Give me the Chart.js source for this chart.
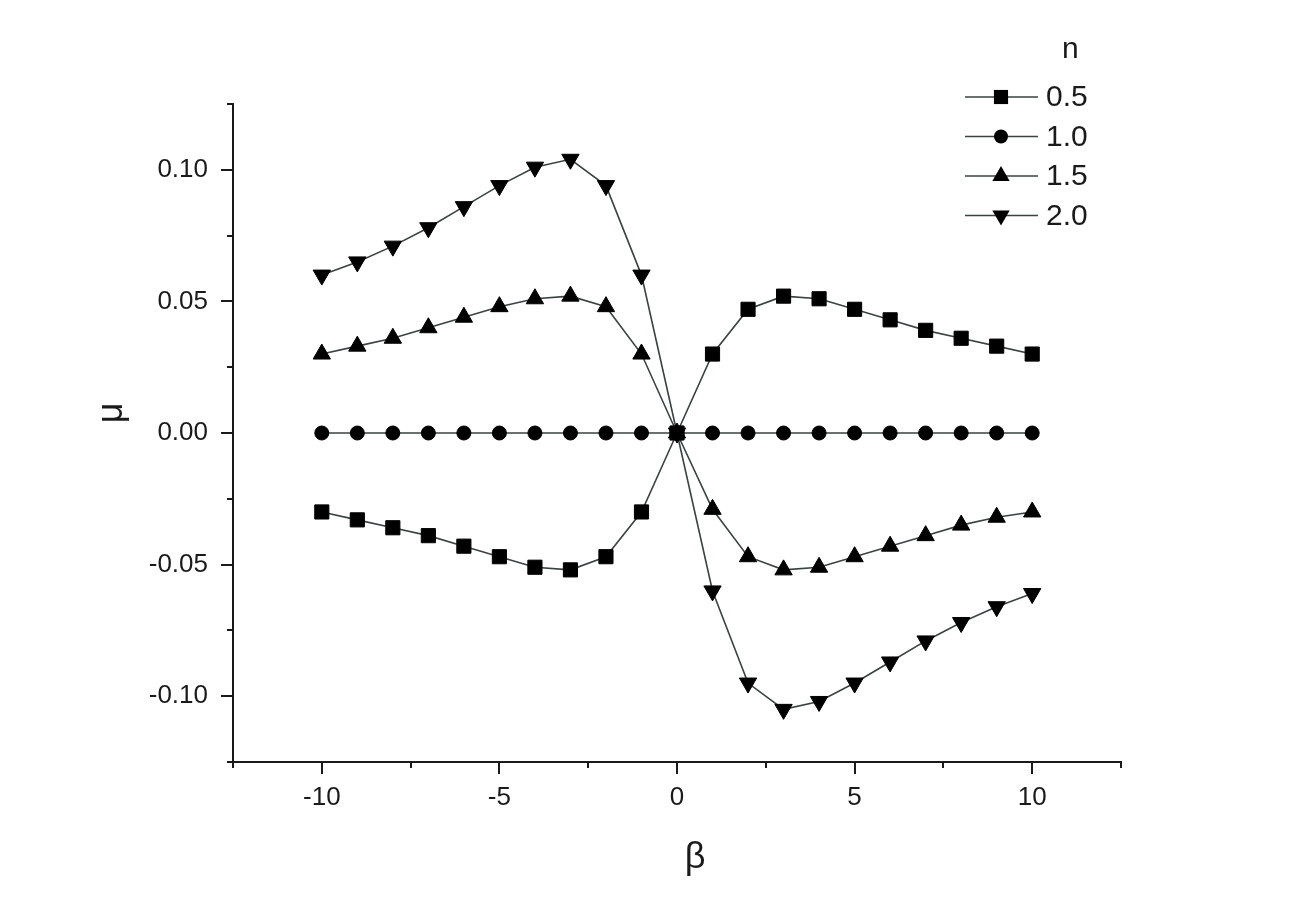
<!DOCTYPE html>
<html>
<head>
<meta charset="utf-8">
<script src="https://cdn.jsdelivr.net/npm/chart.js@4/dist/chart.umd.min.js"></script>
<style>
  html, body { margin: 0; padding: 0; background: #fff; }
  #wrap { width: 1302px; height: 915px; }
</style>
</head>
<body>
<div id="wrap"><canvas id="c" width="1302" height="915"></canvas></div>
<script>
// ---- data ----
const beta = [-10, -9, -8, -7, -6, -5, -4, -3, -2, -1, 0, 1, 2, 3, 4, 5, 6, 7, 8, 9, 10];
const mu_n05 = [-0.030, -0.033, -0.036, -0.039, -0.043, -0.047, -0.051, -0.052, -0.047, -0.030, 0.000,
                 0.030, 0.047, 0.052, 0.051, 0.047, 0.043, 0.039, 0.036, 0.033, 0.030];
const mu_n10 = [0, 0, 0, 0, 0, 0, 0, 0, 0, 0, 0, 0, 0, 0, 0, 0, 0, 0, 0, 0, 0];
const mu_n15 = [0.030, 0.033, 0.036, 0.040, 0.044, 0.048, 0.051, 0.052, 0.048, 0.030, 0.000,
                -0.029, -0.047, -0.052, -0.051, -0.047, -0.043, -0.039, -0.035, -0.032, -0.030];
const mu_n20 = [0.060, 0.065, 0.071, 0.078, 0.086, 0.094, 0.101, 0.104, 0.094, 0.060, 0.000,
                -0.060, -0.095, -0.105, -0.102, -0.095, -0.087, -0.079, -0.072, -0.066, -0.061];
const seriesNames = ['0.5', '1.0', '1.5', '2.0'];
const legendTitle = 'n';
const xTicks = [-10, -5, 0, 5, 10];
const xMinorTicks = [-12.5, -7.5, -2.5, 2.5, 7.5, 12.5];
const yTicks = [-0.10, -0.05, 0.00, 0.05, 0.10];
const yMinorTicks = [-0.125, -0.075, -0.025, 0.025, 0.075, 0.125];
const xTitle = 'β';
const yTitle = 'μ';

const LINE = '#3a4242';
const INK = '#1a1a1a';
const FONT = '"Liberation Sans", Arial, sans-serif';

function pts(ys) { return beta.map((b, i) => ({ x: b, y: ys[i] })); }

const styles = [
  { pointStyle: 'rect', pointRadius: 10, pointRotation: 0 },
  { pointStyle: 'circle', pointRadius: 7, pointRotation: 0 },
  { pointStyle: 'triangle', pointRadius: 10, pointRotation: 0 },
  { pointStyle: 'triangle', pointRadius: 10, pointRotation: 180 }
];
const allSeries = [mu_n05, mu_n10, mu_n15, mu_n20];

const datasets = allSeries.map((s, i) => ({
  label: seriesNames[i],
  data: pts(s),
  borderColor: LINE,
  borderWidth: 1.6,
  backgroundColor: '#000',
  pointBackgroundColor: '#000',
  pointBorderColor: '#000',
  pointBorderWidth: 1,
  pointStyle: styles[i].pointStyle,
  pointRadius: styles[i].pointRadius,
  pointRotation: styles[i].pointRotation,
  pointHoverRadius: styles[i].pointRadius,
  tension: 0,
  fill: false
}));

function drawMarker(ctx, style, x, y, r, rotDeg) {
  const rad = rotDeg * Math.PI / 180;
  ctx.beginPath();
  if (style === 'circle') {
    ctx.arc(x, y, r, 0, Math.PI * 2);
  } else if (style === 'rect') {
    const s = Math.SQRT1_2 * r;
    ctx.rect(x - s, y - s, 2 * s, 2 * s);
  } else if (style === 'triangle') {
    let a = rad - Math.PI / 2;
    ctx.moveTo(x + Math.cos(a) * r, y + Math.sin(a) * r);
    a += 2 * Math.PI / 3;
    ctx.lineTo(x + Math.cos(a) * r, y + Math.sin(a) * r);
    a += 2 * Math.PI / 3;
    ctx.lineTo(x + Math.cos(a) * r, y + Math.sin(a) * r);
    ctx.closePath();
  }
  ctx.fill();
}

const decorPlugin = {
  id: 'decor',
  afterDraw(chart) {
    const ctx = chart.ctx;
    const xs = chart.scales.x, ys = chart.scales.y;
    const area = chart.chartArea;
    ctx.save();
    ctx.strokeStyle = INK;
    ctx.lineWidth = 2;
    // x ticks
    xTicks.forEach(v => {
      const px = Math.round(xs.getPixelForValue(v));
      ctx.beginPath(); ctx.moveTo(px, area.bottom); ctx.lineTo(px, area.bottom + 12); ctx.stroke();
    });
    xMinorTicks.forEach(v => {
      const px = Math.round(xs.getPixelForValue(v));
      ctx.beginPath(); ctx.moveTo(px, area.bottom); ctx.lineTo(px, area.bottom + 6); ctx.stroke();
    });
    // y ticks
    yTicks.forEach(v => {
      const py = Math.round(ys.getPixelForValue(v));
      ctx.beginPath(); ctx.moveTo(area.left, py); ctx.lineTo(area.left - 12, py); ctx.stroke();
    });
    yMinorTicks.forEach(v => {
      const py = Math.round(ys.getPixelForValue(v));
      ctx.beginPath(); ctx.moveTo(area.left, py); ctx.lineTo(area.left - 6, py); ctx.stroke();
    });

    // axis titles
    ctx.fillStyle = INK;
    ctx.font = '36px ' + FONT;
    ctx.textAlign = 'center';
    ctx.textBaseline = 'middle';
    ctx.fillText(xTitle, area.left + 462, area.bottom + 96);
    ctx.save();
    ctx.translate(area.left - 121, area.top + 309);
    ctx.rotate(-Math.PI / 2);
    ctx.fillText(yTitle, 0, 0);
    ctx.restore();

    // legend
    const lx0 = area.right - 156, lx1 = area.right - 83, mx = area.right - 120;
    const rowY0 = area.top - 7, rowGap = 39.5;
    ctx.font = '30px ' + FONT;
    ctx.textAlign = 'left';
    ctx.fillText(legendTitle, area.right - 59, area.top - 54);
    chart.data.datasets.forEach((ds, i) => {
      const y = rowY0 + i * rowGap;
      ctx.strokeStyle = ds.borderColor;
      ctx.lineWidth = 1.6;
      ctx.beginPath(); ctx.moveTo(lx0, y); ctx.lineTo(lx1, y); ctx.stroke();
      ctx.fillStyle = '#000';
      drawMarker(ctx, ds.pointStyle, mx, y, ds.pointRadius, ds.pointRotation);
      ctx.fillStyle = INK;
      ctx.fillText(ds.label, area.right - 75, y + 1);
    });
    ctx.restore();
  }
};

new Chart(document.getElementById('c'), {
  type: 'line',
  data: { datasets },
  plugins: [decorPlugin],
  options: {
    responsive: false,
    animation: false,
    events: [],
    layout: { padding: { left: 0, top: 104, right: 181, bottom: 0 } },
    plugins: { legend: { display: false }, tooltip: { enabled: false }, title: { display: false } },
    scales: {
      x: {
        type: 'linear',
        min: -12.5, max: 12.5,
        afterBuildTicks: s => { s.ticks = xTicks.map(v => ({ value: v })); },
        afterFit: s => { s.height = 915 - 762; },
        grid: { display: false, drawTicks: false, tickLength: 0 },
        border: { display: true, color: INK, width: 2 },
        ticks: { color: INK, font: { family: FONT, size: 26 }, padding: 20, maxRotation: 0, autoSkip: false,
                 callback: v => String(v) }
      },
      y: {
        type: 'linear',
        min: -0.125, max: 0.125,
        afterBuildTicks: s => { s.ticks = yTicks.map(v => ({ value: v })); },
        afterFit: s => { s.width = 233; },
        grid: { display: false, drawTicks: false, tickLength: 0 },
        border: { display: true, color: INK, width: 2 },
        ticks: { color: INK, font: { family: FONT, size: 26 }, padding: 25, autoSkip: false,
                 callback: v => Number(v).toFixed(2) }
      }
    }
  }
});
</script>
</body>
</html>
